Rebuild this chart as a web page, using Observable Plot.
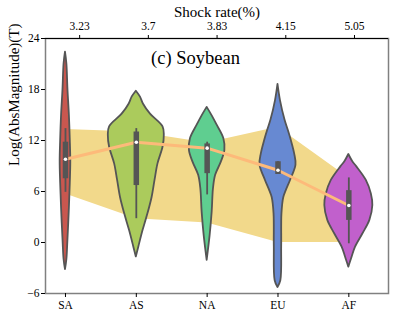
<!DOCTYPE html>
<html>
<head>
<meta charset="utf-8">
<script src="https://cdn.jsdelivr.net/npm/d3@7"></script>
<script src="https://cdn.jsdelivr.net/npm/@observablehq/plot@0.6"></script>
<style>
  html, body { margin: 0; padding: 0; background: #fff; }
  #chart svg { display: block; }
</style>
</head>
<body>
<div id="chart"></div>
<script>
// ---- data ----
const regions = ["SA", "AS", "NA", "EU", "AF"];
const shockRate = ["3.23", "3.7", "3.83", "4.15", "5.05"];
const shockTickPos = [0.2, 1.17, 2.14, 3.11, 4.08];
const regionColors = ["#c9574f", "#abcb5c", "#5fce90", "#6789d2", "#c160cc"];

const medians = [9.8, 11.8, 11.1, 8.5, 4.35];
const q1 = [7.5, 6.7, 8.1, 8.0, 2.6];
const q3 = [11.8, 13.0, 11.6, 9.5, 6.1];
const whiskerLow = [5.9, 2.8, 5.6, 8.0, -0.15];
const whiskerHigh = [13.4, 13.4, 11.8, 9.5, 7.6];

const bandUpper = [13.3, 13.0, 11.7, 13.55, 7.6];
const bandLower = [5.7, 2.8, 2.3, 0.0, 0.0];

// violin density profiles: [value, half-width in category units]
const violinSA = [[22.4,0],[21,0.02],[18,0.035],[15,0.055],[12,0.068],[9.5,0.075],[7,0.068],[4,0.055],[0,0.033],[-2,0.02],[-3.2,0]];
const violinAS = [[17.8,0],[17.1,0.059],[16.3,0.10],[15.1,0.20],[13.6,0.377],[12.6,0.395],[11.2,0.377],[9.25,0.306],[7.3,0.264],[5.3,0.223],[3.4,0.165],[1.4,0.095],[-0.55,0.035],[-1.7,0]];
const violinNA = [[15.9,0],[14.9,0.071],[13.8,0.141],[12.2,0.236],[10.8,0.25],[9.45,0.20],[7.9,0.12],[6.3,0.089],[3.6,0.071],[0.8,0.042],[-2.1,0]];
const violinEU = [[18.6,0],[16.7,0.035],[14.4,0.099],[13.2,0.145],[12,0.188],[10.4,0.236],[9.1,0.254],[7.3,0.177],[6.1,0.117],[5.3,0.082],[3.4,0.056],[-0.5,0.052],[-4.5,0.040],[-5.3,0]];
const violinAF = [[10.35,0],[9.5,0.056],[8.9,0.113],[7.3,0.247],[5.7,0.318],[4.35,0.339],[2.6,0.297],[1.0,0.198],[-0.55,0.095],[-1.7,0.047],[-2.9,0]];
const violins = [violinSA, violinAS, violinNA, violinEU, violinAF];

const yTicks = [-6, 0, 6, 12, 18, 24];
const title = "(c) Soybean";
const yLabel = "Log(AbsMagnitude)(T)";
const topLabel = "Shock rate(%)";

// ---- tables built from the arrays ----
const stats = regions.map((r, i) => ({
  i, region: r, m: medians[i], q1: q1[i], q3: q3[i], wlo: whiskerLow[i], whi: whiskerHigh[i],
  hi: bandUpper[i], lo: bandLower[i]
}));

const violinMarks = violins.map((prof, i) => Plot.areaX(prof, {
  y: d => d[0],
  x1: d => i - d[1],
  x2: d => i + d[1],
  fill: regionColors[i],
  stroke: "#555555",
  strokeWidth: 1.8,
  curve: "catmull-rom"
}));

const chart = Plot.plot({
  width: 395,
  height: 332,
  marginLeft: 45,
  marginRight: 7,
  marginTop: 38,
  marginBottom: 39,
  style: { fontFamily: "'Liberation Serif', 'DejaVu Serif', serif", fontSize: "11.5px", background: "#fff", color: "#000" },
  x: { type: "linear", domain: [-0.282, 4.56], axis: null },
  y: { domain: [-6, 24], axis: null },
  marks: [
    Plot.areaY(stats, { x: "i", y1: "lo", y2: "hi", fill: "#f2d98b" }),
    ...violinMarks,
    Plot.line(stats, { x: "i", y: "m", stroke: "#fdba7a", strokeWidth: 3 }),
    Plot.ruleX(stats, { x: "i", y1: "wlo", y2: "whi", stroke: "#555555", strokeWidth: 1.8 }),
    Plot.ruleX(stats, { x: "i", y1: "q1", y2: "q3", stroke: "#555555", strokeWidth: 5.5 }),
    Plot.dot(stats, { x: "i", y: "m", r: 1.8, fill: "white", stroke: null }),
    Plot.frame({ stroke: "#808080", strokeWidth: 1.5 }),
    Plot.ruleY([24], { stroke: "#000", strokeWidth: 1 }),
    Plot.axisY({ ticks: yTicks, tickSize: 4, tickPadding: 2, label: null, fontSize: 11.5 }),
    Plot.axisX({ anchor: "bottom", ticks: [0, 1, 2, 3, 4], tickFormat: i => regions[i], tickSize: 4, tickPadding: 3, label: null, fontSize: 11.5 }),
    Plot.axisX({ anchor: "top", ticks: shockTickPos, tickFormat: d => shockRate[shockTickPos.indexOf(d)], tickSize: 4, tickPadding: 5, label: null, fontSize: 11.5 }),
    Plot.text([topLabel], { text: d => d, frameAnchor: "top", dy: -32, fontSize: 15 }),
    Plot.text([yLabel], { text: d => d, frameAnchor: "left", rotate: -90, dx: -31, fontSize: 15 }),
    Plot.text([title], { text: d => d, frameAnchor: "top-left", dx: 150, dy: 12, textAnchor: "middle", fontSize: 18.5 })
  ]
});
document.getElementById("chart").appendChild(chart);
</script>
</body>
</html>
